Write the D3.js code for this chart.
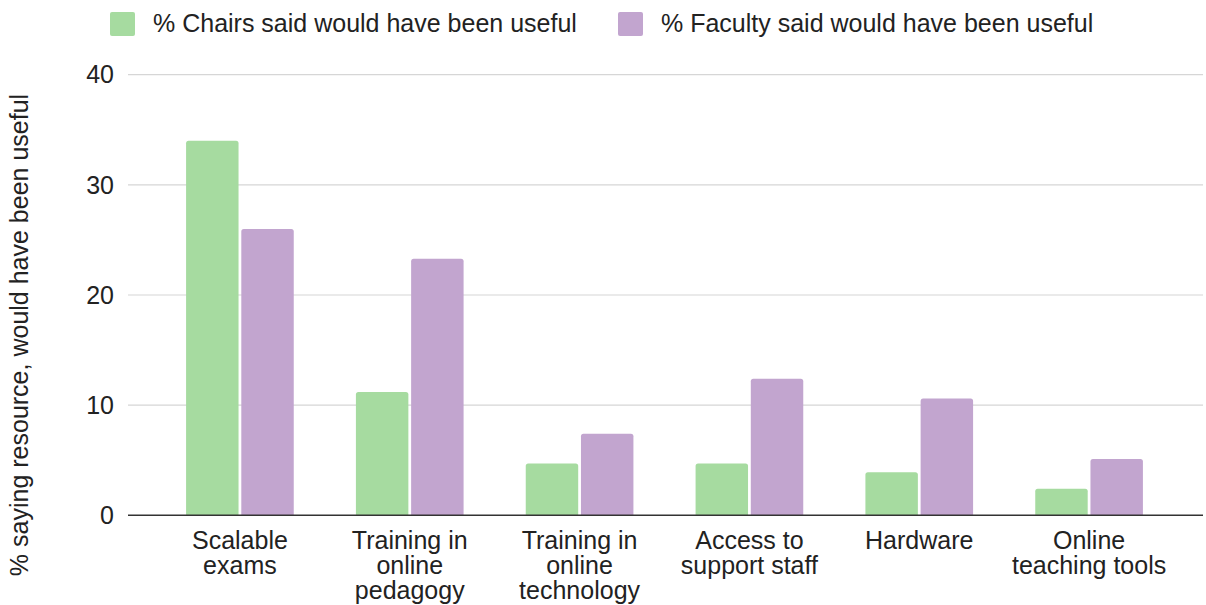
<!DOCTYPE html>
<html><head><meta charset="utf-8">
<script src="https://cdn.jsdelivr.net/npm/d3@7"></script>
<style>body{margin:0;background:#fff}svg{display:block;font-family:"Liberation Sans",Arial,sans-serif}</style>
</head><body>
<svg id="c" width="1206" height="605"></svg>
<script>
const categories = [["Scalable","exams"],["Training in","online","pedagogy"],["Training in","online","technology"],["Access to","support staff"],["Hardware"],["Online","teaching tools"]];
const seriesNames = ["% Chairs said would have been useful","% Faculty said would have been useful"];
const chairs = [34, 11.2, 4.7, 4.7, 3.9, 2.4];
const faculty = [26, 23.3, 7.4, 12.4, 10.6, 5.1];
const yTicks = [0, 10, 20, 30, 40];
const colors = ["#a6dba0", "#c2a5cf"];
const yTitle = "% saying resource, would have been useful";

const svg = d3.select("#c");
const FS = 25;
const plotL = 128, plotR = 1203, plotTop = 74.7, plotBottom = 515.3;
const y = d3.scaleLinear().domain([0, 40]).range([plotBottom, plotTop]);
const x = d3.scaleBand().domain(d3.range(categories.length)).range([155, 1174]).paddingInner(0.366).paddingOuter(0.183);
const x1 = d3.scaleBand().domain([0,1]).range([0, x.bandwidth()]).paddingInner(0.05);

// gridlines
svg.append("g").selectAll("line").data(yTicks.filter(d=>d>0)).join("line")
  .attr("x1", plotL).attr("x2", plotR).attr("y1", d=>y(d)).attr("y2", d=>y(d))
  .attr("stroke", "#d6d6d6").attr("stroke-width", 1.2);

// y tick labels
svg.append("g").selectAll("text").data(yTicks).join("text")
  .attr("x", 114).attr("y", d=>y(d)).attr("dy", "0.35em").attr("text-anchor", "end")
  .attr("font-size", FS).attr("fill", "#222").text(d=>d);

// bars
const data = [chairs, faculty];
function roundTop(x0, y0, w, h, r) {
  r = Math.min(r, h, w/2);
  return `M${x0},${y0+h}V${y0+r}Q${x0},${y0} ${x0+r},${y0}H${x0+w-r}Q${x0+w},${y0} ${x0+w},${y0+r}V${y0+h}Z`;
}
const g = svg.append("g");
categories.forEach((c, i) => {
  data.forEach((s, j) => {
    const bx = x(i) + x1(j), by = y(s[i]);
    g.append("path").attr("d", roundTop(bx, by, x1.bandwidth(), y(0) - by, 2.5)).attr("fill", colors[j]);
  });
});

// zero axis
svg.append("line").attr("x1", plotL).attr("x2", plotR).attr("y1", y(0)).attr("y2", y(0))
  .attr("stroke", "#333").attr("stroke-width", 1.5);

// x labels
const xl = svg.append("g");
categories.forEach((c, i) => {
  const t = xl.append("text").attr("x", x(i) + x.bandwidth()/2).attr("y", 549)
    .attr("text-anchor", "middle").attr("font-size", FS).attr("fill", "#222");
  c.forEach((line, k) => t.append("tspan").attr("x", x(i) + x.bandwidth()/2).attr("dy", k ? 25 : 0).text(line));
});

// y title
svg.append("text").attr("transform", `translate(28,335) rotate(-90)`).attr("text-anchor", "middle")
  .attr("font-size", FS).attr("fill", "#222").text(yTitle);

// legend
const legX = [110, 618];
seriesNames.forEach((n, j) => {
  svg.append("rect").attr("x", legX[j]).attr("y", 12).attr("width", 25).attr("height", 24).attr("rx", 2)
    .attr("fill", colors[j]);
  svg.append("text").attr("x", legX[j] + 43).attr("y", 32)
    .attr("font-size", FS).attr("fill", "#222").text(n);
});
</script>
</body></html>
